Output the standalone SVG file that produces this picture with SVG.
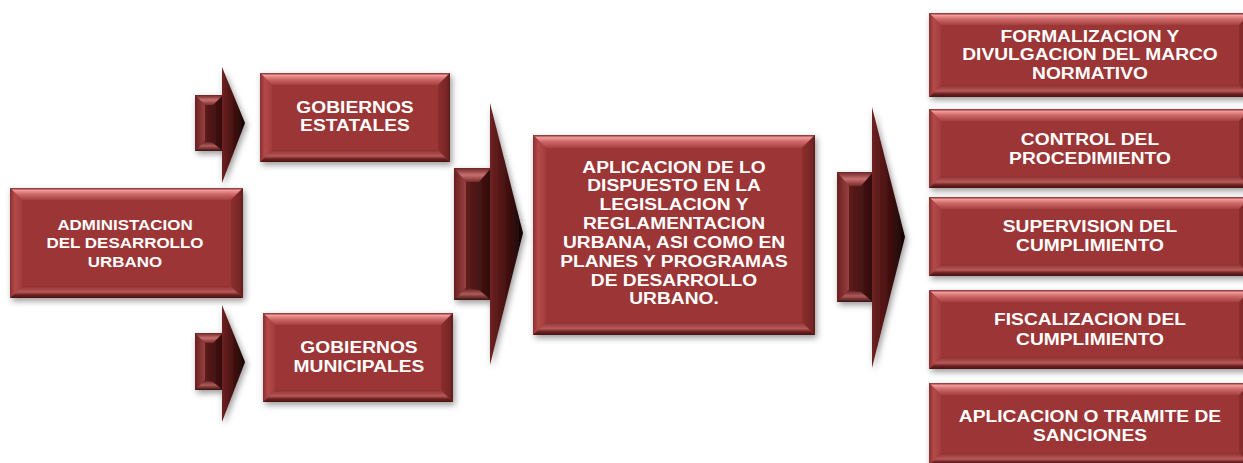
<svg xmlns="http://www.w3.org/2000/svg" width="1243" height="463" viewBox="0 0 1243 463">
<style>
.face{fill:#9c3636}
.bt{fill:url(#gTop)}
.bb{fill:url(#gBot)}
.bl{fill:url(#gLeft)}
.br{fill:url(#gRight)}
.t{font-family:"Liberation Sans",Arial,sans-serif;font-weight:bold;fill:#ffffff;text-anchor:middle;font-size:17px}
.t1{font-size:15px}
.ab{fill:url(#gArrBody)}
.abl{fill:url(#gArrLeft)}
.abt{fill:url(#gArrTop)}
.abb{fill:url(#gArrBot)}
.ah{fill:url(#gArrHead)}
</style>
<defs>
<filter id="sh" x="-10%" y="-10%" width="125%" height="130%">
<feDropShadow dx="2" dy="3" stdDeviation="3" flood-color="#000" flood-opacity="0.4"/>
</filter>
<linearGradient id="gTop" x1="0" y1="0" x2="0" y2="1">
<stop offset="0" stop-color="#7a2a2a"/>
<stop offset="0.2" stop-color="#f09a9a"/>
<stop offset="0.5" stop-color="#d06a6a"/>
<stop offset="1" stop-color="#a54040"/>
</linearGradient>
<linearGradient id="gBot" x1="0" y1="0" x2="0" y2="1">
<stop offset="0" stop-color="#8e3030"/>
<stop offset="0.5" stop-color="#b85858"/>
<stop offset="0.75" stop-color="#6a2020"/>
<stop offset="1" stop-color="#4a1414"/>
</linearGradient>
<linearGradient id="gLeft" x1="0" y1="0" x2="1" y2="0">
<stop offset="0" stop-color="#8a2e2e"/>
<stop offset="0.4" stop-color="#b44a4a"/>
<stop offset="1" stop-color="#a23c3c"/>
</linearGradient>
<linearGradient id="gRight" x1="0" y1="0" x2="1" y2="0">
<stop offset="0" stop-color="#8a2e2e"/>
<stop offset="0.7" stop-color="#7a2626"/>
<stop offset="1" stop-color="#5e1c1c"/>
</linearGradient>
<linearGradient id="gArrBody" x1="0" y1="0" x2="1" y2="0">
<stop offset="0" stop-color="#6e2424"/>
<stop offset="0.6" stop-color="#4e1616"/>
<stop offset="1" stop-color="#2e0a0a"/>
</linearGradient>
<linearGradient id="gArrLeft" x1="0" y1="0" x2="1" y2="0">
<stop offset="0" stop-color="#6a2020"/>
<stop offset="1" stop-color="#9a4040"/>
</linearGradient>
<linearGradient id="gArrTop" x1="0" y1="0" x2="0" y2="1">
<stop offset="0" stop-color="#6a2424"/>
<stop offset="0.5" stop-color="#c87070"/>
<stop offset="1" stop-color="#7a2a2a"/>
</linearGradient>
<linearGradient id="gArrBot" x1="0" y1="0" x2="0" y2="1">
<stop offset="0" stop-color="#5a1a1a"/>
<stop offset="0.5" stop-color="#b05a5a"/>
<stop offset="1" stop-color="#3a0e0e"/>
</linearGradient>
<linearGradient id="gArrHead" x1="0" y1="0" x2="1" y2="0">
<stop offset="0" stop-color="#6e2222"/>
<stop offset="0.45" stop-color="#4a1212"/>
<stop offset="1" stop-color="#140303"/>
</linearGradient>
</defs>
<rect width="1243" height="463" fill="#ffffff"/>

<g id="connectors">
<g id="arrow1" filter="url(#sh)">
<rect class="ab" x="195" y="95" width="28" height="56"/>
<polygon class="abl" points="195,95 205,105 205,141 195,151"/>
<polygon class="abt" points="195,95 223,95 213,105 205,105"/>
<polygon class="abb" points="195,151 223,151 213,143 205,141"/>
<polygon class="ah" points="222,67 245,123 222,183"/>
</g>
<g id="arrow2" filter="url(#sh)">
<rect class="ab" x="195" y="333" width="28" height="57"/>
<polygon class="abl" points="195,333 205,343 205,380 195,390"/>
<polygon class="abt" points="195,333 223,333 213,343 205,343"/>
<polygon class="abb" points="195,390 223,390 213,382 205,380"/>
<polygon class="ah" points="222,305 245,362 222,422"/>
</g>
<g id="arrow3" filter="url(#sh)">
<rect class="ab" x="454" y="168" width="37" height="132"/>
<polygon class="abl" points="454,168 466,182 466,288 454,300"/>
<polygon class="abt" points="454,168 491,168 479,182 466,182"/>
<polygon class="abb" points="454,300 491,300 479,290 466,288"/>
<polygon class="ah" points="490,103 523,233 490,365"/>
</g>
<g id="arrow4" filter="url(#sh)">
<rect class="ab" x="837" y="172" width="36" height="130"/>
<polygon class="abl" points="837,172 849,186 849,290 837,302"/>
<polygon class="abt" points="837,172 873,172 861,186 849,186"/>
<polygon class="abb" points="837,302 873,302 861,292 849,290"/>
<polygon class="ah" points="872,107 905,237 872,368"/>
</g>
</g>

<g id="node-admin">
<rect class="face" x="10" y="188" width="233" height="110" filter="url(#sh)"/>
<polygon class="bt" points="10,188 243,188 231,200 22,200"/>
<polygon class="bb" points="10,298 243,298 231,286 22,286"/>
<polygon class="bl" points="10,188 22,200 22,286 10,298"/>
<polygon class="br" points="243,188 231,200 231,286 243,298"/>
<g transform="translate(125 0) scale(1.13 1)">
<text class="t t1" x="0" y="230">ADMINISTACION</text>
<text class="t t1" x="0" y="248.5">DEL DESARROLLO</text>
<text class="t t1" x="0" y="267">URBANO</text>
</g>
</g>

<g id="node-estatales">
<rect class="face" x="260" y="73" width="190" height="89" filter="url(#sh)"/>
<polygon class="bt" points="260,73 450,73 438,85 272,85"/>
<polygon class="bb" points="260,162 450,162 438,150 272,150"/>
<polygon class="bl" points="260,73 272,85 272,150 260,162"/>
<polygon class="br" points="450,73 438,85 438,150 450,162"/>
<g transform="translate(355 0) scale(1.13 1)">
<text class="t" x="0" y="113">GOBIERNOS</text>
<text class="t" x="0" y="131.5">ESTATALES</text>
</g>
</g>

<g id="node-municipales">
<rect class="face" x="263" y="313" width="190" height="89" filter="url(#sh)"/>
<polygon class="bt" points="263,313 453,313 441,325 275,325"/>
<polygon class="bb" points="263,402 453,402 441,390 275,390"/>
<polygon class="bl" points="263,313 275,325 275,390 263,402"/>
<polygon class="br" points="453,313 441,325 441,390 453,402"/>
<g transform="translate(359 0) scale(1.13 1)">
<text class="t" x="0" y="353">GOBIERNOS</text>
<text class="t" x="0" y="372">MUNICIPALES</text>
</g>
</g>

<g id="node-aplicacion">
<rect class="face" x="533" y="135" width="282" height="200" filter="url(#sh)"/>
<polygon class="bt" points="533,135 815,135 802,148 546,148"/>
<polygon class="bb" points="533,335 815,335 802,322 546,322"/>
<polygon class="bl" points="533,135 546,148 546,322 533,335"/>
<polygon class="br" points="815,135 802,148 802,322 815,335"/>
<g transform="translate(674 0) scale(1.13 1)">
<text class="t" x="0" y="172.7">APLICACION DE LO</text>
<text class="t" x="0" y="191.5">DISPUESTO EN LA</text>
<text class="t" x="0" y="210.4">LEGISLACION Y</text>
<text class="t" x="0" y="229.3">REGLAMENTACION</text>
<text class="t" x="0" y="248">URBANA, ASI COMO EN</text>
<text class="t" x="0" y="266.8">PLANES Y PROGRAMAS</text>
<text class="t" x="0" y="285.6">DE DESARROLLO</text>
<text class="t" x="0" y="304.4">URBANO.</text>
</g>
</g>

<g id="node-formalizacion">
<rect class="face" x="929" y="13" width="322" height="84" filter="url(#sh)"/>
<polygon class="bt" points="929,13 1251,13 1239,25 941,25"/>
<polygon class="bb" points="929,97 1251,97 1239,85 941,85"/>
<polygon class="bl" points="929,13 941,25 941,85 929,97"/>
<polygon class="br" points="1251,13 1239,25 1239,85 1251,97"/>
<g transform="translate(1090 0) scale(1.13 1)">
<text class="t" x="0" y="41.7">FORMALIZACION Y</text>
<text class="t" x="0" y="60.3">DIVULGACION DEL MARCO</text>
<text class="t" x="0" y="79.5">NORMATIVO</text>
</g>
</g>

<g id="node-control">
<rect class="face" x="929" y="109" width="322" height="79" filter="url(#sh)"/>
<polygon class="bt" points="929,109 1251,109 1239,121 941,121"/>
<polygon class="bb" points="929,188 1251,188 1239,176 941,176"/>
<polygon class="bl" points="929,109 941,121 941,176 929,188"/>
<polygon class="br" points="1251,109 1239,121 1239,176 1251,188"/>
<g transform="translate(1090 0) scale(1.13 1)">
<text class="t" x="0" y="145">CONTROL DEL</text>
<text class="t" x="0" y="164">PROCEDIMIENTO</text>
</g>
</g>

<g id="node-supervision">
<rect class="face" x="929" y="197" width="322" height="79" filter="url(#sh)"/>
<polygon class="bt" points="929,197 1251,197 1239,209 941,209"/>
<polygon class="bb" points="929,276 1251,276 1239,264 941,264"/>
<polygon class="bl" points="929,197 941,209 941,264 929,276"/>
<polygon class="br" points="1251,197 1239,209 1239,264 1251,276"/>
<g transform="translate(1090 0) scale(1.13 1)">
<text class="t" x="0" y="231.7">SUPERVISION DEL</text>
<text class="t" x="0" y="250.7">CUMPLIMIENTO</text>
</g>
</g>

<g id="node-fiscalizacion">
<rect class="face" x="929" y="290" width="322" height="79" filter="url(#sh)"/>
<polygon class="bt" points="929,290 1251,290 1239,302 941,302"/>
<polygon class="bb" points="929,369 1251,369 1239,357 941,357"/>
<polygon class="bl" points="929,290 941,302 941,357 929,369"/>
<polygon class="br" points="1251,290 1239,302 1239,357 1251,369"/>
<g transform="translate(1090 0) scale(1.13 1)">
<text class="t" x="0" y="325.5">FISCALIZACION DEL</text>
<text class="t" x="0" y="344.7">CUMPLIMIENTO</text>
</g>
</g>

<g id="node-sanciones">
<rect class="face" x="929" y="383" width="322" height="82" filter="url(#sh)"/>
<polygon class="bt" points="929,383 1251,383 1239,395 941,395"/>
<polygon class="bb" points="929,465 1251,465 1239,453 941,453"/>
<polygon class="bl" points="929,383 941,395 941,453 929,465"/>
<polygon class="br" points="1251,383 1239,395 1239,453 1251,465"/>
<g transform="translate(1090 0) scale(1.13 1)">
<text class="t" x="0" y="421.7">APLICACION O TRAMITE DE</text>
<text class="t" x="0" y="440.7">SANCIONES</text>
</g>
</g>
</svg>
